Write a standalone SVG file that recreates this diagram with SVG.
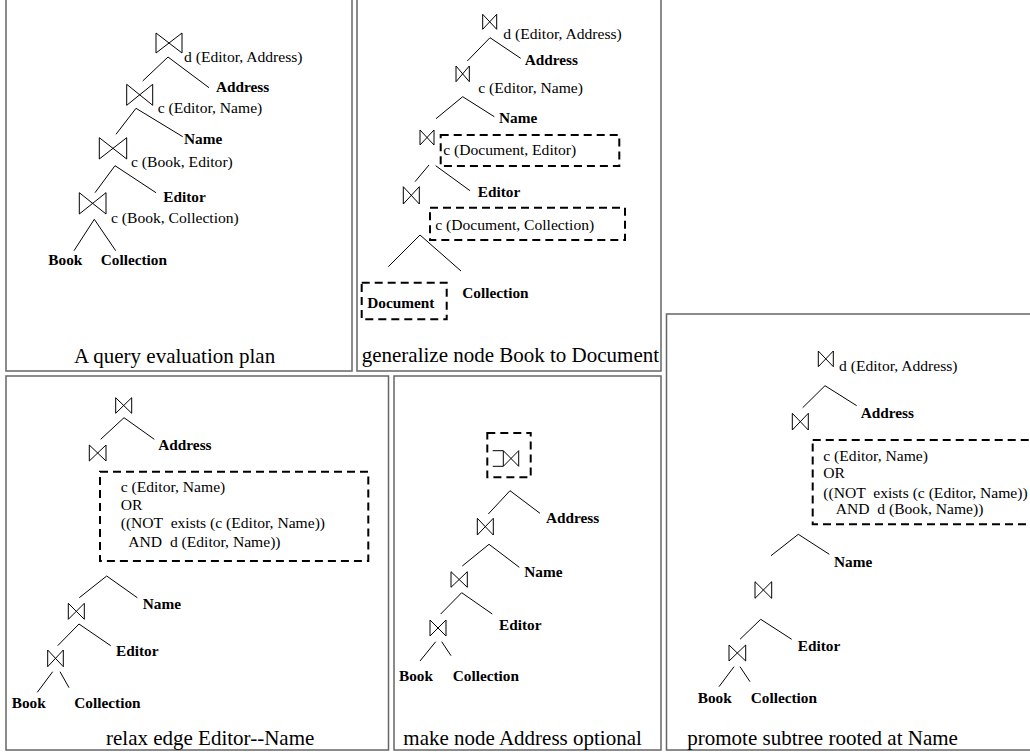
<svg xmlns="http://www.w3.org/2000/svg" width="1030" height="755" viewBox="0 0 1030 755">
<style>
.panel{fill:none;stroke:#666;stroke-width:1.5}
.bt{fill:none;stroke:#000;stroke-width:1}
.e{stroke:#000;stroke-width:1}
.dash{fill:none;stroke:#000;stroke-width:2;stroke-dasharray:8,5}
text{font-family:"Liberation Serif","Times New Roman",serif;fill:#000}
.l{font-size:15.6px}
.b{font-size:15.3px;font-weight:bold}
.cap{font-size:21px}
.pre{white-space:pre}
</style>
<rect width="1030" height="755" fill="#fff"/>
<g id="panels">
<rect class="panel" x="6" y="-3" width="346" height="374"/>
<rect class="panel" x="357" y="-3" width="304" height="374"/>
<rect class="panel" x="6" y="376" width="382.5" height="374"/>
<rect class="panel" x="394" y="376" width="267" height="374"/>
<rect class="panel" x="666.5" y="314" width="380" height="436"/>
</g>
<g id="connectors">
<line class="e" x1="168" y1="57" x2="142.7" y2="81"/>
<line class="e" x1="168" y1="57" x2="209" y2="87.7"/>
<line class="e" x1="136" y1="108.3" x2="116" y2="134.3"/>
<line class="e" x1="136" y1="108.3" x2="182.7" y2="136.7"/>
<line class="e" x1="115" y1="165.7" x2="95" y2="192.7"/>
<line class="e" x1="115" y1="165.7" x2="156" y2="192.7"/>
<line class="e" x1="94.3" y1="219.3" x2="74" y2="250.7"/>
<line class="e" x1="94.3" y1="219.3" x2="115.7" y2="250.7"/>

<line class="e" x1="490" y1="37.7" x2="467.3" y2="61"/>
<line class="e" x1="490" y1="37.7" x2="520.7" y2="58.3"/>
<line class="e" x1="462.7" y1="96.7" x2="436" y2="118.7"/>
<line class="e" x1="462.7" y1="96.7" x2="494.3" y2="116.7"/>
<line class="e" x1="429" y1="165" x2="415" y2="181.7"/>
<line class="e" x1="435.7" y1="165.7" x2="470" y2="190.7"/>
<line class="e" x1="420" y1="235" x2="388.3" y2="266.7"/>
<line class="e" x1="420" y1="235" x2="461" y2="271"/>

<line class="e" x1="124" y1="417.7" x2="100.7" y2="439.3"/>
<line class="e" x1="124" y1="417.7" x2="154.3" y2="439.3"/>
<line class="e" x1="106.7" y1="576" x2="79.3" y2="597.7"/>
<line class="e" x1="106.7" y1="576" x2="137.3" y2="597.7"/>
<line class="e" x1="79" y1="624" x2="57.7" y2="645.7"/>
<line class="e" x1="79" y1="624" x2="110.7" y2="645.7"/>
<line class="e" x1="52.7" y1="671.7" x2="37.3" y2="692.3"/>
<line class="e" x1="60" y1="671.7" x2="69" y2="687.7"/>

<line class="e" x1="510" y1="490.7" x2="488.3" y2="514"/>
<line class="e" x1="510" y1="490.7" x2="540" y2="513.3"/>
<line class="e" x1="489" y1="544.3" x2="462.3" y2="566"/>
<line class="e" x1="489" y1="544.3" x2="519.3" y2="567.3"/>
<line class="e" x1="461.7" y1="592.7" x2="440.7" y2="614"/>
<line class="e" x1="461.7" y1="592.7" x2="492.3" y2="614"/>
<line class="e" x1="435.7" y1="641.7" x2="420" y2="661"/>
<line class="e" x1="441.7" y1="641.7" x2="451" y2="655.7"/>

<line class="e" x1="825" y1="385.7" x2="802.7" y2="407.7"/>
<line class="e" x1="825" y1="385.7" x2="856.7" y2="405.7"/>
<line class="e" x1="798.3" y1="534.3" x2="771" y2="555.7"/>
<line class="e" x1="798.3" y1="534.3" x2="829.3" y2="554.3"/>
<line class="e" x1="760.7" y1="619.3" x2="740" y2="639.3"/>
<line class="e" x1="760.7" y1="619.3" x2="791.7" y2="639.3"/>
<line class="e" x1="734" y1="666.7" x2="719" y2="686.7"/>
<line class="e" x1="740" y1="666.7" x2="750" y2="681.7"/>
</g>

<!-- Panel 1 -->
<g id="p1-join1"><path class="bt" d="M156,33 L182,53 V33 L156,53 Z"/><text class="l" x="184" y="61.5">d (Editor, Address)</text></g>
<g id="p1-address"><text class="b" x="216" y="92">Address</text></g>
<g id="p1-join2"><path class="bt" d="M126.7,84.3 L152.7,105.3 V84.3 L126.7,105.3 Z"/><text class="l" x="157.7" y="113">c (Editor, Name)</text></g>
<g id="p1-name"><text class="b" x="184" y="144">Name</text></g>
<g id="p1-join3"><path class="bt" d="M99.3,137.7 L126.7,159 V137.7 L99.3,159 Z"/><text class="l" x="131" y="166.7">c (Book, Editor)</text></g>
<g id="p1-editor"><text class="b" x="163.3" y="202">Editor</text></g>
<g id="p1-join4"><path class="bt" d="M79.3,192.7 L106,214 V192.7 L79.3,214 Z"/><text class="l" x="111" y="223">c (Book, Collection)</text></g>
<g id="p1-book"><text class="b" x="48.3" y="265">Book</text></g>
<g id="p1-collection"><text class="b" x="100.7" y="265">Collection</text></g>
<text class="cap" x="74" y="363">A query evaluation plan</text>

<!-- Panel 2 -->
<g id="p2-join1"><path class="bt" d="M482.7,14.3 L496.7,29.3 V14.3 L482.7,29.3 Z"/><text class="l" x="503.3" y="39">d (Editor, Address)</text></g>
<g id="p2-address"><text class="b" x="524.7" y="65">Address</text></g>
<g id="p2-join2"><path class="bt" d="M456,66 L469.3,81.7 V66 L456,81.7 Z"/><text class="l" x="478.3" y="92.7">c (Editor, Name)</text></g>
<g id="p2-name"><text class="b" x="499" y="123.3">Name</text></g>
<g id="p2-join3"><path class="bt" d="M420,130 L434,145 V130 L420,145 Z"/><rect class="dash" x="440.7" y="135" width="178.6" height="31"/><text class="l" x="443.3" y="155">c (Document, Editor)</text></g>
<g id="p2-editor"><text class="b" x="477.7" y="196.7">Editor</text></g>
<g id="p2-join4"><path class="bt" d="M403.3,186.7 L419.3,204 V186.7 L403.3,204 Z"/><rect class="dash" x="430" y="207.7" width="195" height="32.3"/><text class="l" x="435.3" y="230">c (Document, Collection)</text></g>
<g id="p2-collection"><text class="b" x="462.3" y="297.7">Collection</text></g>
<g id="p2-document"><rect class="dash" x="361.7" y="282.7" width="85" height="36.6"/><text class="b" x="367.3" y="308.3">Document</text></g>
<text class="cap" x="361.7" y="361.7">generalize node Book to Document</text>

<!-- Panel 3 -->
<g id="p3-join1"><path class="bt" d="M115.7,397.7 L131.7,413.3 V397.7 L115.7,413.3 Z"/></g>
<g id="p3-address"><text class="b" x="158.3" y="450">Address</text></g>
<g id="p3-join2"><path class="bt" d="M89.3,445 L106,461 V445 L89.3,461 Z"/>
<rect class="dash" x="100" y="471.7" width="268.3" height="89.3"/>
<text class="l" x="120.7" y="492.3">c (Editor, Name)</text>
<text class="l" x="120.7" y="510">OR</text>
<text class="l pre" xml:space="preserve" x="120.7" y="528.3">((NOT  exists (c (Editor, Name))</text>
<text class="l pre" xml:space="preserve" x="128.3" y="546.7">AND  d (Editor, Name))</text></g>
<g id="p3-name"><text class="b" x="142.7" y="609.3">Name</text></g>
<g id="p3-join3"><path class="bt" d="M68.3,603.3 L84.3,619.3 V603.3 L68.3,619.3 Z"/></g>
<g id="p3-editor"><text class="b" x="116" y="655.7">Editor</text></g>
<g id="p3-join4"><path class="bt" d="M47.7,650 L63.3,666.7 V650 L47.7,666.7 Z"/></g>
<g id="p3-book"><text class="b" x="11.7" y="708.3">Book</text></g>
<g id="p3-collection"><text class="b" x="74.3" y="708.3">Collection</text></g>
<text class="cap" x="106" y="745">relax edge Editor--Name</text>

<!-- Panel 4 -->
<g id="p4-join1"><rect class="dash" x="487.3" y="433" width="43.4" height="44.3"/><path class="bt" d="M492.7,450.7 H503.3 V466.3 H492.7 M503.3,450.7 L518.7,466.3 V450.7 L503.3,466.3"/></g>
<g id="p4-address"><text class="b" x="546" y="523.3">Address</text></g>
<g id="p4-join2"><path class="bt" d="M477.3,518.3 L493.3,535 V518.3 L477.3,535 Z"/></g>
<g id="p4-name"><text class="b" x="524.3" y="576.7">Name</text></g>
<g id="p4-join3"><path class="bt" d="M451,571.7 L467.3,587.3 V571.7 L451,587.3 Z"/></g>
<g id="p4-editor"><text class="b" x="499" y="630">Editor</text></g>
<g id="p4-join4"><path class="bt" d="M430,620 L446,636 V620 L430,636 Z"/></g>
<g id="p4-book"><text class="b" x="399" y="680.7">Book</text></g>
<g id="p4-collection"><text class="b" x="452.7" y="680.7">Collection</text></g>
<text class="cap" x="403.3" y="745">make node Address optional</text>

<!-- Panel 5 -->
<g id="p5-join1"><path class="bt" d="M818.3,351 L833.3,366.7 V351 L818.3,366.7 Z"/><text class="l" x="839" y="371">d (Editor, Address)</text></g>
<g id="p5-address"><text class="b" x="860.7" y="418.3">Address</text></g>
<g id="p5-join2"><path class="bt" d="M792.3,413.3 L808.3,430 V413.3 L792.3,430 Z"/></g>
<g id="p5-condition"><rect class="dash" x="812.7" y="440" width="240" height="84.3"/>
<text class="l" x="823.3" y="461">c (Editor, Name)</text>
<text class="l" x="823.3" y="478.3">OR</text>
<text class="l pre" xml:space="preserve" x="823.3" y="497.7">((NOT  exists (c (Editor, Name))</text>
<text class="l pre" xml:space="preserve" x="835.7" y="514.3">AND  d (Book, Name))</text></g>
<g id="p5-name"><text class="b" x="834" y="566.7">Name</text></g>
<g id="p5-join3"><path class="bt" d="M755,581.7 L771.7,598.3 V581.7 L755,598.3 Z"/></g>
<g id="p5-editor"><text class="b" x="797.7" y="650.7">Editor</text></g>
<g id="p5-join4"><path class="bt" d="M729,645 L745.7,661 V645 L729,661 Z"/></g>
<g id="p5-book"><text class="b" x="697.7" y="703.3">Book</text></g>
<g id="p5-collection"><text class="b" x="750.7" y="703.3">Collection</text></g>
<text class="cap" x="687.3" y="745">promote subtree rooted at Name</text>
</svg>
